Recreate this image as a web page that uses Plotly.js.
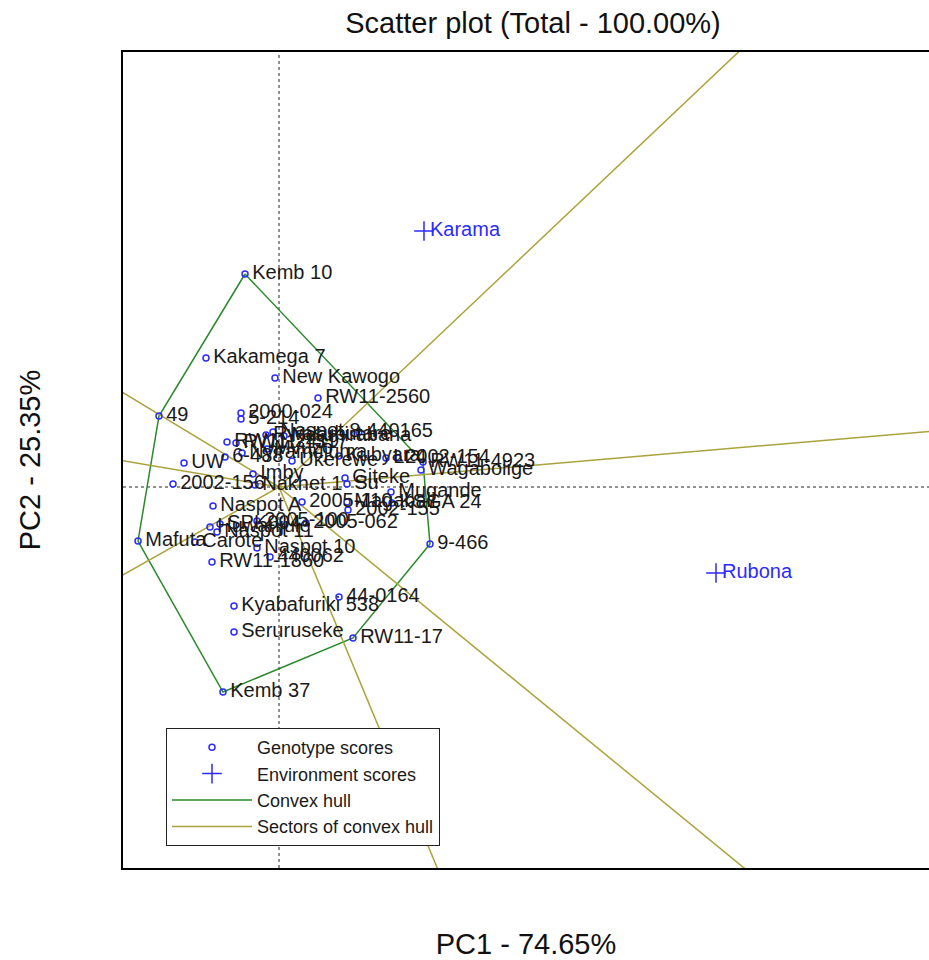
<!DOCTYPE html>
<html>
<head>
<meta charset="utf-8">
<script src="https://cdn.plot.ly/plotly-3.0.1.min.js"></script>
<style>
  html, body { margin: 0; padding: 0; background: #ffffff; overflow: hidden; }
  #chart { width: 929px; height: 960px; }
</style>
</head>
<body>
<div id="chart"></div>
<script>
// Genotype scores on the first two principal components
const genotypeNames = [
  "Kemb 10", "Kakamega 7", "New Kawogo", "RW11-2560", "49", "2000-024", "5-214",
  "RW11-2419", "RW11-1317", "Rwasubutare", "Naspot 8", "Ndamirabana", "6-488",
  "Nyiramujuma", "Mvuzo", "Ukerewe", "Kubyara", "440165", "Lt 4", "2002-154",
  "RW11-4923", "Wagabolige", "UW", "2002-156", "Imby", "Nakhet 1", "Giteke", "Su",
  "Mugande", "Naspot A", "2005-110", "Magabali", "KSGA 24", "2002-155", "Huwanjule",
  "SPK004", "Naspot 11", "2005-100", "2005-062", "Mafuta", "Carote", "Naspot 10",
  "RW11-1860", "440062", "9-466", "Kyabafuriki 538", "44-0164", "Seruruseke",
  "RW11-17", "Kemb 37"
];
const genotypePC1 = [
  -0.34, -0.73, -0.04, 0.39, -1.20, -0.38, -0.38,
  -0.52, -0.43, -0.13, -0.06, 0.05, -0.54,
  -0.37, -0.12, 0.13, 0.60, 0.80, 1.07, 1.19,
  1.44, 1.42, -0.95, -1.06, -0.26, -0.24, 0.66, 0.68,
  1.12, -0.66, 0.23, 0.68, 1.13, 0.69, -0.69,
  -0.59, -0.62, -0.22, 0.27, -1.41, -0.84, -0.22,
  -0.67, -0.09, 1.51, -0.45, 0.60, -0.45,
  0.74, -0.56
];
const genotypePC2 = [
  2.13, 1.29, 1.09, 0.89, 0.71, 0.74, 0.68,
  0.45, 0.44, 0.52, 0.55, 0.51, 0.30,
  0.34, 0.38, 0.26, 0.31, 0.55, 0.29, 0.29,
  0.25, 0.17, 0.24, 0.03, 0.13, 0.02, 0.09, 0.03,
  -0.05, -0.19, -0.15, -0.15, -0.16, -0.23, -0.40,
  -0.37, -0.45, -0.34, -0.36, -0.54, -0.55, -0.61,
  -0.75, -0.70, -0.57, -1.19, -1.10, -1.45,
  -1.51, -2.05
];

// Environment scores
const envNames = ["Karama", "Rubona"];
const envPC1 = [1.45, 4.37];
const envPC2 = [2.56, -0.86];

// Genotypes at the vertices of the convex hull, in drawing order
const hullOrder = ["Kemb 10", "RW11-4923", "9-466", "RW11-17", "Kemb 37", "Mafuta", "49"];

const titleText = "Scatter plot (Total - 100.00%)";
const xTitle = "PC1 - 74.65%";
const yTitle = "PC2 - 25.35%";

// ---- derived geometry ----
const hullIdx = hullOrder.map(n => genotypeNames.indexOf(n));
const hullX = hullIdx.map(i => genotypePC1[i]);
const hullY = hullIdx.map(i => genotypePC2[i]);
hullX.push(hullX[0]);
hullY.push(hullY[0]);

// Sector boundaries: rays from the origin perpendicular to each hull edge
const rayLen = 30;
const sectX = [], sectY = [];
for (let k = 0; k < hullIdx.length; k++) {
  const ax = hullX[k], ay = hullY[k], bx = hullX[k + 1], by = hullY[k + 1];
  const dx = bx - ax, dy = by - ay;
  const t = -(ax * dx + ay * dy) / (dx * dx + dy * dy);
  const fx = ax + t * dx, fy = ay + t * dy;
  const n = Math.hypot(fx, fy);
  sectX.push(0, fx / n * rayLen, null);
  sectY.push(0, fy / n * rayLen, null);
}

const FONT = "Liberation Sans, Arial, Helvetica, sans-serif";
const BLUE = "#2b2bff";
const TEXT = "#1a1a1a";

const traces = [
  {
    type: "scatter", mode: "lines", name: "Convex hull",
    x: hullX, y: hullY,
    line: { color: "#2a8a2a", width: 1.5 },
    legendrank: 3, hoverinfo: "skip"
  },
  {
    type: "scatter", mode: "lines", name: "Sectors of convex hull",
    x: sectX, y: sectY,
    line: { color: "#aaa33c", width: 1.5 },
    legendrank: 4, hoverinfo: "skip"
  },
  {
    type: "scatter", mode: "markers", name: "Genotype scores",
    x: genotypePC1, y: genotypePC2, text: genotypeNames,
    marker: { symbol: "circle-open", size: 6, color: BLUE, line: { width: 1.5, color: BLUE } },
    legendrank: 1
  },
  {
    // genotype labels, to the right of each point
    type: "scatter", mode: "markers+text", showlegend: false,
    x: genotypePC1, y: genotypePC2, text: genotypeNames,
    textposition: "middle right",
    textfont: { family: FONT, size: 20, color: TEXT },
    marker: { size: 10, color: "rgba(0,0,0,0)" },
    hoverinfo: "skip"
  },
  {
    type: "scatter", mode: "markers", name: "Environment scores",
    x: envPC1, y: envPC2, text: envNames,
    marker: { symbol: "cross-thin-open", size: 14, color: BLUE, line: { width: 1.5, color: BLUE } },
    legendrank: 2
  },
  {
    type: "scatter", mode: "markers+text", showlegend: false,
    x: envPC1, y: envPC2, text: envNames,
    textposition: "middle right",
    textfont: { family: FONT, size: 20, color: BLUE },
    marker: { size: 8, color: "rgba(0,0,0,0)" },
    hoverinfo: "skip"
  }
];

const layout = {
  width: 929, height: 960,
  margin: { l: 123, r: 0, t: 52, b: 92 },
  paper_bgcolor: "#ffffff", plot_bgcolor: "#ffffff",
  font: { family: FONT, color: TEXT },
  title: {
    text: titleText,
    font: { family: FONT, size: 29, color: "#111111" },
    xref: "container", x: 533 / 929, xanchor: "center",
    yref: "container", y: 1 - 23 / 960, yanchor: "middle"
  },
  xaxis: {
    range: [-1.56, 6.50],
    showgrid: false, zeroline: false, showticklabels: false, ticks: "",
    showline: true, linecolor: "#000000", linewidth: 2, mirror: true,
    title: { text: xTitle, font: { family: FONT, size: 29, color: "#111111" }, standoff: 66 }
  },
  yaxis: {
    range: [-3.81, 4.35],
    showgrid: false, zeroline: false, showticklabels: false, ticks: "",
    showline: true, linecolor: "#000000", linewidth: 2, mirror: false,
    title: { text: yTitle, font: { family: FONT, size: 29, color: "#111111" }, standoff: 72 }
  },
  shapes: [
    { type: "line", xref: "x", yref: "paper", x0: 0, x1: 0, y0: 0, y1: 1,
      line: { color: "#222222", width: 1, dash: "dot" }, layer: "below" },
    { type: "line", xref: "paper", yref: "y", x0: 0, x1: 1, y0: 0, y1: 0,
      line: { color: "#222222", width: 1, dash: "dot" }, layer: "below" }
  ],
  showlegend: true,
  legend: {
    x: (166 - 123) / 806, y: (868 - 728) / 816,
    xanchor: "left", yanchor: "top",
    bgcolor: "#ffffff", bordercolor: "#222222", borderwidth: 1,
    font: { family: FONT, size: 18, color: TEXT },
    itemwidth: 80, traceorder: "normal", tracegroupgap: 0
  },
  hovermode: false
};

Plotly.newPlot("chart", traces, layout, { staticPlot: true, displayModeBar: false });
</script>
</body>
</html>
